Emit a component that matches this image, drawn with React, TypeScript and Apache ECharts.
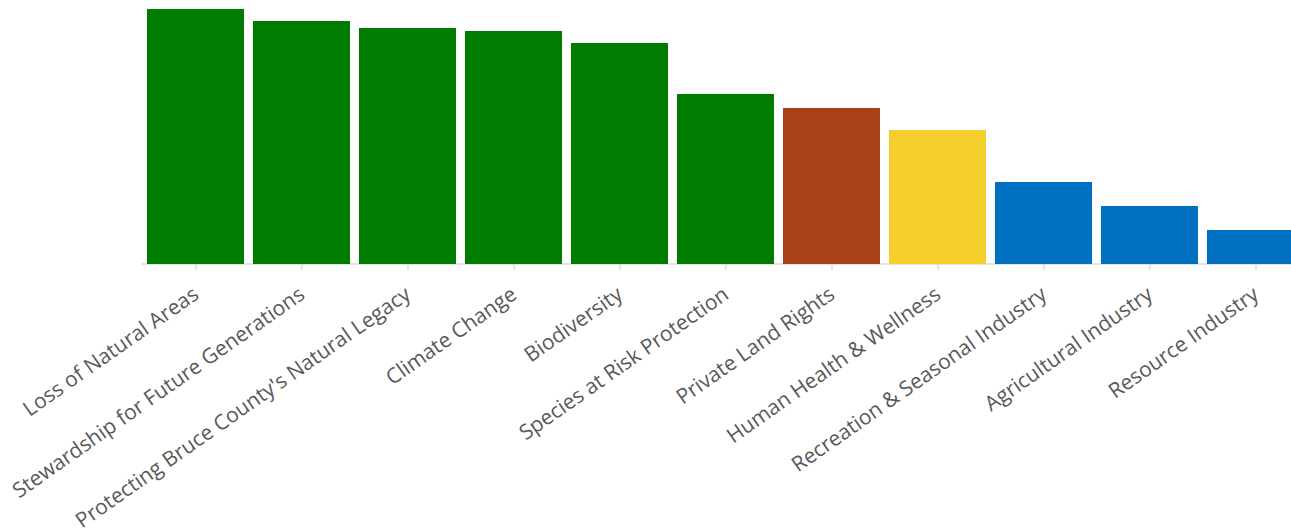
import React, { useEffect, useRef } from "react";
import * as echarts from "echarts";

const categories = [
  "Loss of Natural Areas",
  "Stewardship for Future Generations",
  "Protecting Bruce County's Natural Legacy",
  "Climate Change",
  "Biodiversity",
  "Species at Risk Protection",
  "Private Land Rights",
  "Human Health & Wellness",
  "Recreation & Seasonal Industry",
  "Agricultural Industry",
  "Resource Industry",
];

const values = [255, 243, 236, 233, 221, 170, 156, 134, 82, 58, 34];

const groups = [
  "environment",
  "environment",
  "environment",
  "environment",
  "environment",
  "environment",
  "rights",
  "health",
  "industry",
  "industry",
  "industry",
];

const groupColors: Record<string, string> = {
  environment: "#007C00",
  rights: "#A84118",
  health: "#F4CE2B",
  industry: "#0070C0",
};

export default function App() {
  const ref = useRef<HTMLDivElement>(null);

  useEffect(() => {
    if (!ref.current) return;
    const chart = echarts.init(ref.current, undefined, { renderer: "svg" });
    chart.setOption({
      animation: false,
      grid: {
        left: 142.5,
        top: 9,
        width: 1166,
        height: 255,
        containLabel: false,
        outerBoundsMode: "none",
      },
      xAxis: {
        type: "category",
        data: categories,
        axisLine: { show: true, lineStyle: { color: "#D9D9D9", width: 1.5 } },
        axisTick: { show: true, alignWithLabel: true, length: 6, lineStyle: { color: "#D9D9D9", width: 1.5 } },
        axisLabel: {
          interval: 0,
          rotate: 35,
          margin: 27,
          color: "#595959",
          fontFamily: "Open Sans",
          fontSize: 21,
        },
      },
      yAxis: { type: "value", min: 0, max: 255, show: false, splitLine: { show: false } },
      series: [
        {
          type: "bar",
          barCategoryGap: "8.5%",
          data: values.map((v, i) => ({ value: v, itemStyle: { color: groupColors[groups[i]] } })),
        },
      ],
    });
    return () => chart.dispose();
  }, []);

  return (
    <div style={{ position: "fixed", left: 0, top: 0, width: 1291, height: 528, overflow: "hidden", background: "#fff" }}>
      <div ref={ref} style={{ width: 1320, height: 528 }} />
    </div>
  );
}
